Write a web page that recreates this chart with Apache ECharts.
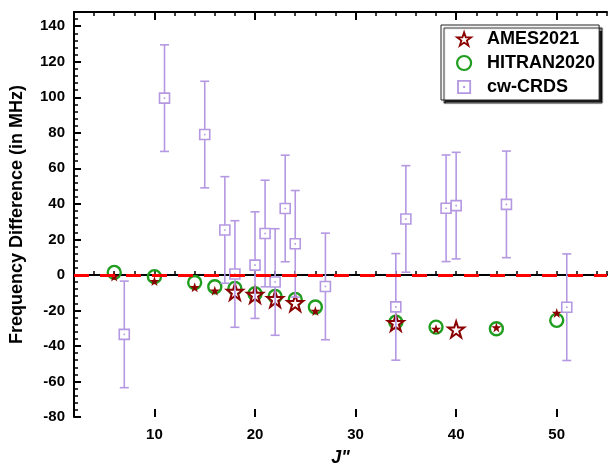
<!DOCTYPE html>
<html>
<head>
<meta charset="utf-8">
<script src="https://cdn.jsdelivr.net/npm/echarts@6/dist/echarts.min.js"></script>
<style>
  html, body { margin: 0; padding: 0; background: #fff; }
  #chart { width: 610px; height: 472px; }
</style>
</head>
<body>
<div id="chart"></div>
<script>
// 数据
const crdsJ = [7, 11, 15, 17, 18, 20, 21, 22, 23, 24, 27, 34, 35, 39, 40, 45, 51];
const crdsDiff = [-33.5, 99.5, 79, 25.3, 0.5, 5.5, 23.3, -4, 37.4, 17.5, -6.5, -18, 31.5, 37.5, 39, 39.7, -18.2];
const crdsErr = [30, 30, 30, 30, 30, 30, 30, 30, 30, 30, 30, 30, 30, 30, 30, 30, 30];

const hitranJ = [6, 10, 14, 16, 18, 20, 22, 24, 26, 34, 38, 44, 50];
const hitranDiff = [1.4, -1, -4.3, -6.7, -7.6, -10.6, -12.1, -13.8, -18.1, -26.6, -29.4, -30.3, -25.6];

const amesJ = [6, 10, 14, 16, 18, 20, 22, 24, 26, 34, 38, 40, 44, 50];
const amesDiff = [-0.9, -3.5, -7, -8.9, -9.5, -11.2, -13.6, -15.8, -20.3, -27, -30.5, -30.7, -29.6, -21.4];

const xMajorTicks = [10, 20, 30, 40, 50];

const PURPLE = '#b498e2';
const GREEN = '#1f9d1f';
const DARKRED = '#8b0000';
const FONT = 'Liberation Sans, Arial, sans-serif';
const STAR = 'path://M50,0 L62,36 L100,36 L69.5,58.5 L81,95 L50,72.5 L19,95 L30.5,58.5 L0,36 L38,36 Z';
const SQUARE_DOT = 'path://M0,0H10V10H0Z M1.3,1.3V8.7H8.7V1.3Z M4.3,4.3H5.7V5.7H4.3Z';

// AMES 点：与 cw-CRDS 同 J 的画成大空心星，其余为小实心星
const amesData = amesJ.map(function (j, i) {
    if (crdsJ.indexOf(j) >= 0) {
        return { value: [j, amesDiff[i]], symbolSize: 16 };
    }
    return {
        value: [j, amesDiff[i]],
        symbolSize: 10,
        itemStyle: { color: DARKRED, borderWidth: 0 }
    };
});

const hitranData = hitranJ.map(function (j, i) { return [j, hitranDiff[i]]; });
const crdsData = crdsJ.map(function (j, i) { return [j, crdsDiff[i], crdsErr[i]]; });

// 误差棒 + 方块
function renderErrorBar(params, api) {
    const x = api.value(0), y = api.value(1), e = api.value(2);
    const c = api.coord([x, y]);
    const top = api.coord([x, y + e])[1];
    const bot = api.coord([x, y - e])[1];
    const cap = 4.5, half = 5;
    const ls = { stroke: PURPLE, lineWidth: 1.6, fill: null };
    return {
        type: 'group',
        children: [
            { type: 'line', shape: { x1: c[0], y1: top, x2: c[0], y2: bot }, style: ls },
            { type: 'line', shape: { x1: c[0] - cap, y1: top, x2: c[0] + cap, y2: top }, style: ls },
            { type: 'line', shape: { x1: c[0] - cap, y1: bot, x2: c[0] + cap, y2: bot }, style: ls },
            { type: 'rect', shape: { x: c[0] - half, y: c[1] - half, width: half * 2, height: half * 2 },
              style: { fill: '#fff', stroke: PURPLE, lineWidth: 1.6 } },
            { type: 'rect', shape: { x: c[0] - 0.8, y: c[1] - 0.8, width: 1.6, height: 1.6 },
              style: { fill: PURPLE } }
        ]
    };
}

const axisLineStyle = { color: '#000', width: 2 };
const labelStyle = { color: '#000', fontSize: 15, fontWeight: 'bold', fontFamily: FONT };

const chart = echarts.init(document.getElementById('chart'));
const option = {
    animation: false,
    backgroundColor: '#fff',
    grid: { left: 74, right: 0, top: 12, bottom: 52 },
    legend: {
        orient: 'vertical',
        left: 441,
        top: 25,
        padding: [5, 4, 4, 15],
        itemWidth: 14,
        itemHeight: 14,
        itemGap: 6,
        backgroundColor: '#fff',
        borderColor: '#222',
        borderWidth: 1,
        shadowColor: 'rgba(0,0,0,0.9)',
        shadowBlur: 1,
        shadowOffsetX: 3,
        shadowOffsetY: 3,
        textStyle: { color: '#000', fontSize: 18, fontWeight: 'bold', fontFamily: FONT,
                     lineHeight: 16, padding: [0, 0, 0, 11] },
        data: [
            { name: 'AMES2021', icon: STAR, itemStyle: { color: '#fff', borderColor: DARKRED, borderWidth: 1.8 } },
            { name: 'HITRAN2020', icon: 'circle', itemStyle: { color: 'rgba(0,0,0,0)', borderColor: GREEN, borderWidth: 2.2 } },
            { name: 'cw-CRDS', icon: SQUARE_DOT, itemStyle: { color: PURPLE, borderWidth: 0 } }
        ]
    },
    xAxis: [
        {
            type: 'value', min: 2, max: 55, interval: 2, position: 'bottom',
            axisLine: { lineStyle: axisLineStyle },
            axisTick: { inside: true, length: 4, lineStyle: { width: 1.5 } },
            axisLabel: Object.assign({ margin: 10, formatter: function (v) {
                return xMajorTicks.indexOf(v) >= 0 ? String(v) : '';
            } }, labelStyle),
            splitLine: { show: false },
            name: 'J"', nameLocation: 'middle', nameGap: 32,
            nameTextStyle: { color: '#000', fontSize: 18, fontWeight: 'bold', fontStyle: 'italic', fontFamily: FONT }
        },
        {
            type: 'value', min: 2, max: 55, position: 'bottom',
            axisLine: { show: false },
            axisTick: { inside: true, length: 8, customValues: xMajorTicks, lineStyle: { width: 2, color: '#000' } },
            axisLabel: { show: false },
            splitLine: { show: false }
        },
        {
            type: 'value', min: 2, max: 55, interval: 2, position: 'top',
            axisLine: { lineStyle: axisLineStyle },
            axisTick: { inside: true, length: 4, lineStyle: { width: 1.5 } },
            axisLabel: { show: false },
            splitLine: { show: false }
        },
        {
            type: 'value', min: 2, max: 55, position: 'top',
            axisLine: { show: false },
            axisTick: { inside: true, length: 8, customValues: xMajorTicks, lineStyle: { width: 2, color: '#000' } },
            axisLabel: { show: false },
            splitLine: { show: false }
        }
    ],
    yAxis: {
        type: 'value', min: -80, max: 148, interval: 20,
        axisLine: { show: true, lineStyle: axisLineStyle },
        axisTick: { inside: true, length: 7, lineStyle: { width: 2 } },
        minorTick: { show: true, splitNumber: 5, length: 4, lineStyle: { color: '#000', width: 1.5 } },
        axisLabel: Object.assign({ margin: 9, showMaxLabel: false }, labelStyle),
        splitLine: { show: false },
        name: 'Frequency Difference (in MHz)', nameLocation: 'middle', nameGap: 48,
        nameTextStyle: { color: '#000', fontSize: 18, fontWeight: 'bold', fontFamily: FONT }
    },
    series: [
        {
            name: 'HITRAN2020',
            type: 'scatter',
            symbol: 'circle',
            symbolSize: 13,
            z: 2,
            itemStyle: { color: 'rgba(0,0,0,0)', borderColor: GREEN, borderWidth: 2.4, opacity: 1 },
            data: hitranData,
            markLine: {
                silent: true,
                symbol: 'none',
                label: { show: false },
                lineStyle: { color: '#ff0000', width: 3, type: [15, 11] },
                data: [{ yAxis: 0 }]
            }
        },
        {
            name: 'AMES2021',
            type: 'scatter',
            symbol: STAR,
            z: 3,
            itemStyle: { color: '#fff', borderColor: DARKRED, borderWidth: 2, opacity: 1 },
            data: amesData
        },
        {
            name: 'cw-CRDS',
            type: 'custom',
            z: 4,
            renderItem: renderErrorBar,
            encode: { x: 0, y: 1 },
            itemStyle: { color: PURPLE },
            data: crdsData
        }
    ]
};
chart.setOption(option);
</script>
</body>
</html>
